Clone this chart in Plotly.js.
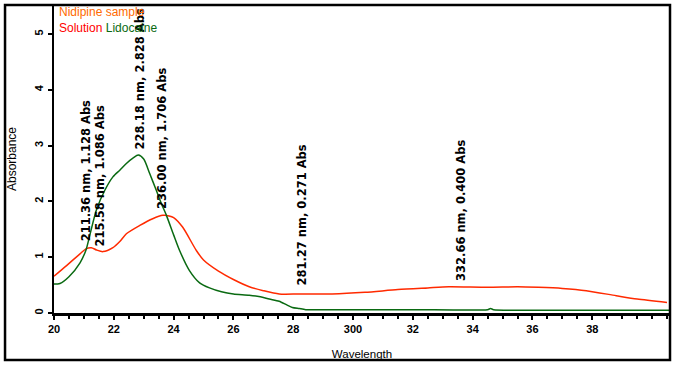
<!DOCTYPE html>
<html>
<head>
<meta charset="utf-8">
<script src="https://cdn.plot.ly/plotly-3.0.1.min.js"></script>
<style>html,body{margin:0;padding:0;background:#fff;}#chart{width:677px;height:365px;}</style>
</head>
<body>
<div id="chart"></div>
<script>
// Wavelength axis (as drawn, in tens of nm)
const lidoX = [20.0,20.2,20.5,20.87,21.07,21.2,21.42,21.7,21.97,22.2,22.42,22.65,22.82,23.0,23.2,23.42,23.6,23.76,24.0,24.2,24.53,24.87,25.2,25.6,26.0,26.53,26.9,27.2,27.53,27.8,27.97,28.2,28.42,30.0,32.0,34.5,34.6,34.7,37.0,40.6];
const lidoY = [0.52,0.53,0.65,0.9,1.13,1.4,1.85,2.2,2.44,2.56,2.68,2.78,2.83,2.76,2.5,2.2,1.95,1.75,1.4,1.12,0.76,0.54,0.45,0.38,0.34,0.32,0.29,0.25,0.21,0.14,0.1,0.08,0.06,0.06,0.06,0.06,0.08,0.06,0.05,0.05];
const nidiX = [20.0,20.42,20.87,21.07,21.25,21.42,21.64,21.97,22.2,22.42,22.87,23.3,23.64,23.85,24.0,24.3,24.76,25.0,25.5,26.0,26.53,27.0,27.53,28.2,29.3,30.4,31.5,32.5,33.2,34.5,35.5,36.2,37.0,37.8,38.8,39.5,40.5];
const nidiY = [0.66,0.85,1.06,1.15,1.17,1.13,1.1,1.17,1.28,1.42,1.57,1.69,1.75,1.74,1.71,1.54,1.12,0.95,0.75,0.6,0.47,0.4,0.34,0.34,0.34,0.37,0.42,0.45,0.47,0.46,0.47,0.46,0.44,0.4,0.31,0.25,0.19];

const xTickVals = [20,22,24,26,28,30,32,34,36,38];
const xTickText = ["20","22","24","26","28","300","32","34","36","38"];
const yTickVals = [0,1,2,3,4,5];

// Peak labels
const peakText = ["211.36 nm, 1.128 Abs","215.58 nm, 1.086 Abs","228.18 nm, 2.828 Abs","236.00 nm, 1.706 Abs","281.27 nm, 0.271 Abs","332.66 nm, 0.400 Abs"];
const peakX = [21.07,21.53,22.87,23.63,28.3,33.63];
const peakY = [1.24,1.16,2.9,1.83,0.45,0.54];

const traces = [
  {x: nidiX, y: nidiY, mode:'lines', name:'Nidipine sample Solution', line:{color:'#ff2a00', width:1.5, shape:'spline', smoothing:0.7}, hoverinfo:'skip'},
  {x: lidoX, y: lidoY, mode:'lines', name:'Lidocaine', line:{color:'#0a6a12', width:1.5, shape:'spline', smoothing:0.7}, hoverinfo:'skip'}
];

const annFont = {family:'DejaVu Sans, sans-serif', size:11.5, color:'#000', weight:'bold'};
const annotations = peakText.map((t,i)=>({
  x: peakX[i], y: peakY[i], xref:'x', yref:'y', text:t, showarrow:false,
  textangle:-90, xanchor:'center', yanchor:'bottom', font:annFont
}));
annotations.push({xref:'paper', yref:'paper', x:0.005, y:0.977, xanchor:'left', yanchor:'middle', showarrow:false,
  text:'Nidipine sample', font:{family:'Arial, Liberation Sans, sans-serif', size:12, color:'#ff6a00'}});
annotations.push({xref:'paper', yref:'paper', x:0.005, y:0.925, xanchor:'left', yanchor:'middle', showarrow:false,
  text:'<span style="color:#ff0000">Solution</span> <span style="color:#0a6a12">Lidocaine</span>', font:{family:'Arial, Liberation Sans, sans-serif', size:12, color:'#ff0000'}});

const layout = {
  width:677, height:365,
  margin:{l:54, r:7, t:5, b:52},
  paper_bgcolor:'#fff', plot_bgcolor:'#fff',
  showlegend:false,
  xaxis:{
    range:[20,40.6], showgrid:false, zeroline:false,
    showline:true, linecolor:'#000', linewidth:2.5,
    tickmode:'array', tickvals:xTickVals, ticktext:xTickText,
    ticks:'outside', ticklen:4, tickwidth:2, tickcolor:'#000',
    minor:{tickmode:'linear', tick0:20, dtick:0.5, ticks:'outside', ticklen:3, tickwidth:2, tickcolor:'#000'},
    tickfont:{family:'Arial, Liberation Sans, sans-serif', size:11, color:'#000', weight:'bold'},
    title:{text:'Wavelength', standoff:16, font:{family:'Arial, Liberation Sans, sans-serif', size:11.5, color:'#000'}},
    automargin:false, fixedrange:true
  },
  yaxis:{
    range:[0,5.52], showgrid:false, zeroline:false,
    showline:true, linecolor:'#000', linewidth:2.5,
    tickmode:'array', tickvals:yTickVals,
    ticks:'outside', ticklen:4, tickwidth:2, tickcolor:'#000', tickangle:-90,
    tickfont:{family:'Arial, Liberation Sans, sans-serif', size:11, color:'#000', weight:'bold'},
    title:{text:'Absorbance', standoff:14, font:{family:'Arial, Liberation Sans, sans-serif', size:12, color:'#000'}},
    automargin:false, fixedrange:true
  },
  annotations: annotations,
  shapes:[{type:'rect', xref:'paper', yref:'paper', x0:-0.0795, x1:1, y0:-0.1526, y1:1, line:{color:'#000', width:2.5}, fillcolor:'rgba(0,0,0,0)', layer:'above'}]
};

Plotly.newPlot('chart', traces, layout, {displayModeBar:false, staticPlot:true});
</script>
</body>
</html>
